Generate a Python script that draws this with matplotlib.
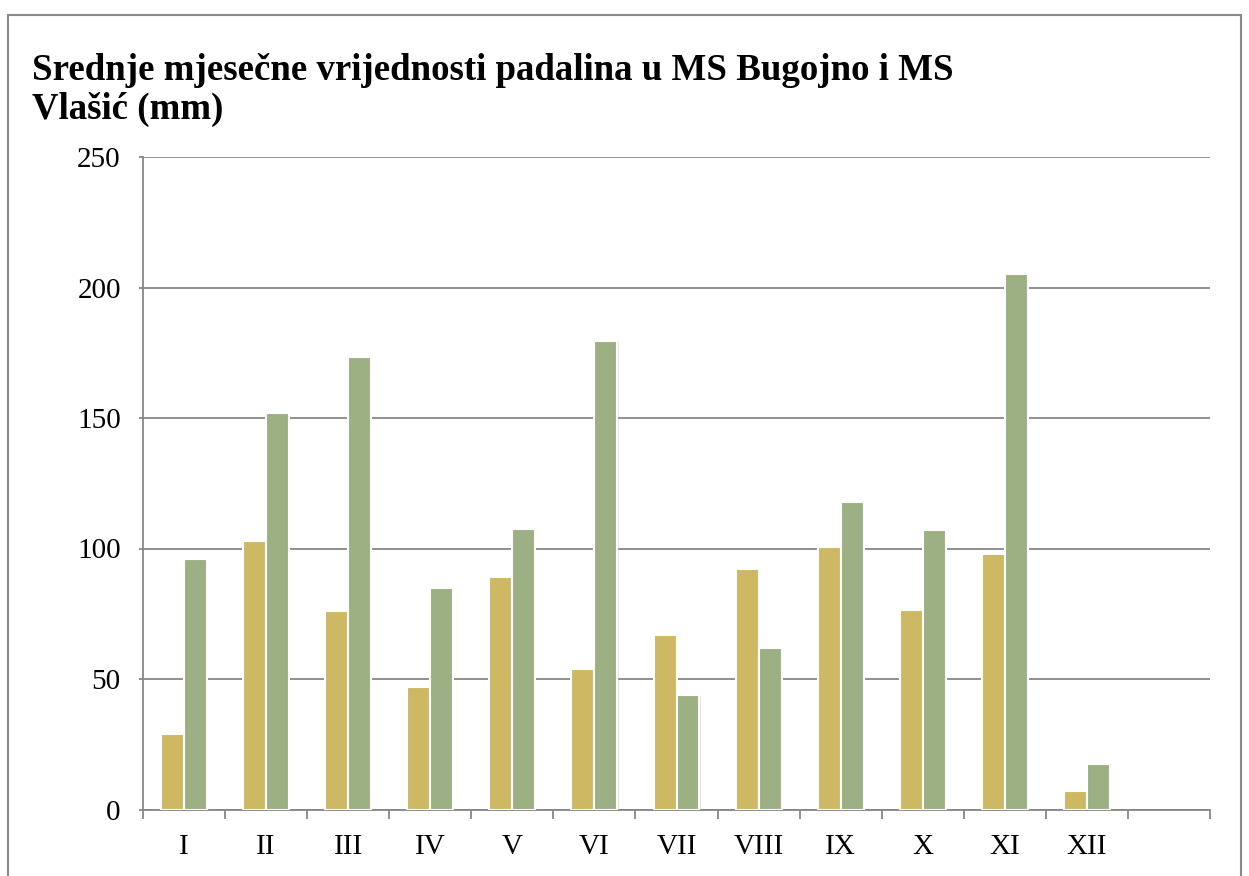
import matplotlib
matplotlib.use("Agg")
import matplotlib.pyplot as plt
import matplotlib.patheffects as pe
from matplotlib.patches import Rectangle
import numpy as np

months = ["I", "II", "III", "IV", "V", "VI", "VII", "VIII", "IX", "X", "XI", "XII"]
bugojno = [29, 103, 76, 47, 89, 54, 67, 92, 100.5, 76.5, 98, 7]
vlasic = [96, 152, 173.5, 85, 107.5, 179.5, 44, 62, 118, 107, 205, 17.5]
yticks = [0, 50, 100, 150, 200, 250]
title = "Srednje mjesečne vrijednosti padalina u MS Bugojno i MS\nVlašić (mm)"

c_yellow = "#CDB864"
c_green = "#9DB083"
grid_c = "#878787"

plt.rcParams["font.family"] = ["Liberation Serif", "DejaVu Serif"]

W, H = 1249, 876
fig = plt.figure(figsize=(W / 100, H / 100), dpi=100)

# outer border
fig.patches.append(Rectangle((8 / W, -0.05), (1241 - 8) / W, 1 - 15 / H + 0.05,
                             transform=fig.transFigure, fill=False,
                             edgecolor="#8a8a8a", linewidth=1.5))

ax = fig.add_axes([143 / W, 1 - 809.5 / H, (1210 - 143) / W, (809.5 - 157) / H])

x = np.arange(len(months))
w = 0.28
shadow = [pe.SimplePatchShadow(offset=(0.8, -0.8), shadow_rgbFace="#aaaaaa", alpha=0.3), pe.Normal()]
b1 = ax.bar(x - w / 2, bugojno, width=w, color=c_yellow, edgecolor="white", linewidth=1.5, zorder=3)
b2 = ax.bar(x + w / 2, vlasic, width=w, color=c_green, edgecolor="white", linewidth=1.5, zorder=3)
for b in list(b1) + list(b2):
    b.set_path_effects(shadow)

ax.set_xlim(-0.5, 12.5)
ax.set_ylim(0, 250)
ax.set_yticks(yticks)
ax.set_yticklabels([str(v) for v in yticks], fontsize=21)
ax.set_xticks(x)
ax.set_xticklabels(months, fontsize=21)
ax.set_xticks(np.arange(-0.5, 13, 1.0), minor=True)
ax.tick_params(axis="x", which="major", length=0, pad=18)
ax.tick_params(axis="x", which="minor", length=6.5, width=1.3, color=grid_c, direction="out")
ax.tick_params(axis="y", which="major", length=3, width=1.3, color=grid_c, pad=13)

ax.yaxis.grid(True, color=grid_c, linewidth=1.3, zorder=0)
ax.set_axisbelow(True)
for s in ["top", "right"]:
    ax.spines[s].set_visible(False)
for s in ["left", "bottom"]:
    ax.spines[s].set_color(grid_c)
    ax.spines[s].set_linewidth(1.3)

fig.text(32 / W, 1 - 119 / H, title, fontsize=26.6, fontweight="bold",
         ha="left", va="baseline", linespacing=1.16)

fig.savefig("out.png", dpi=100, facecolor="white")
